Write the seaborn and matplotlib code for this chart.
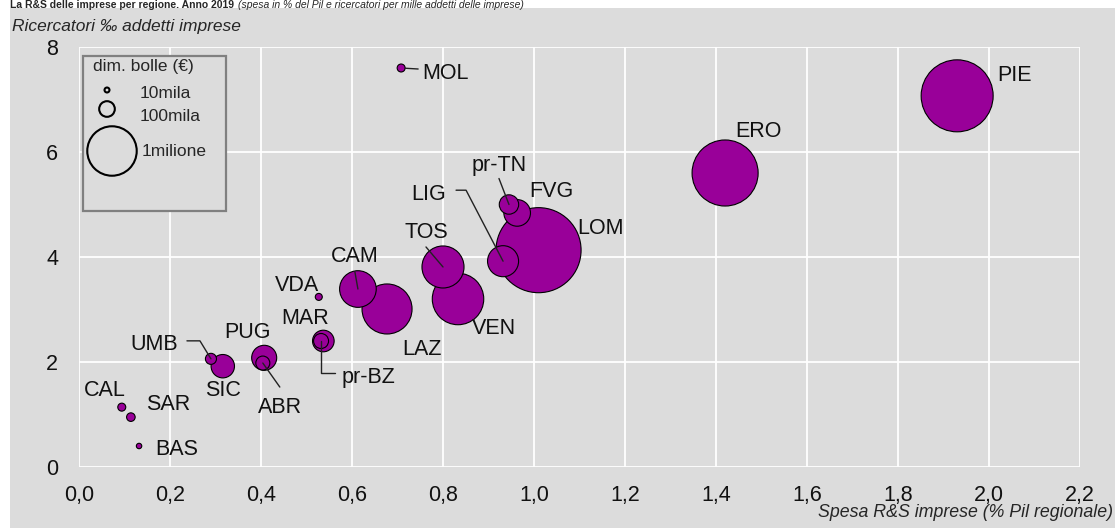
import numpy as np
import pandas as pd
import matplotlib.pyplot as plt
import seaborn as sns
from matplotlib.patches import Rectangle

# data
regioni = ["PIE", "ERO", "LOM", "FVG", "pr-TN", "LIG", "TOS", "VEN", "LAZ", "CAM", "VDA",
           "MAR", "pr-BZ", "UMB", "SIC", "PUG", "ABR", "CAL", "SAR", "BAS", "MOL"]
spesa_pil = [1.93, 1.42, 1.01, 0.963, 0.945, 0.932, 0.80, 0.833, 0.677, 0.613, 0.527,
             0.537, 0.532, 0.29, 0.316, 0.407, 0.404, 0.094, 0.114, 0.132, 0.708]
ricercatori = [7.07, 5.60, 4.13, 4.84, 5.00, 3.92, 3.81, 3.20, 3.01, 3.39, 3.24,
               2.40, 2.40, 2.06, 1.92, 2.08, 1.98, 1.14, 0.95, 0.40, 7.60]
spesa_mila = [2120000, 1785000, 2960000, 290000, 154000, 394000, 723000, 1083000, 1024000, 549000, 20000,
              191000, 92000, 50000, 224000, 256000, 80000, 26000, 30000, 12000, 26000]

legend_values = [10000, 100000, 1000000]
legend_labels = ["10mila", "100mila", "1milione"]
x_ticks = np.arange(0, 2.21, 0.2)
y_ticks = [0, 2, 4, 6, 8]

# label placement (pixels from bubble centre, y up) and leader lines
label_pos = {
    "PIE": (40, 23, "left"), "ERO": (10, 44, "left"), "LOM": (39, 24, "left"),
    "FVG": (12, 24, "left"), "pr-TN": (-10, 41, "center"), "LIG": (-57, 69, "right"),
    "TOS": (-17, 37, "center"), "VEN": (14, -27, "left"), "LAZ": (35, -38, "center"),
    "CAM": (-3, 35, "center"), "VDA": (-22, 14, "center"), "MAR": (-18, 25, "center"),
    "pr-BZ": (21, -34, "left"), "UMB": (-33, 17, "right"), "SIC": (0, -22, "center"),
    "PUG": (-17, 28, "center"), "ABR": (17, -42, "center"), "CAL": (-17, 19, "center"),
    "SAR": (37, 15, "center"), "BAS": (16, -1, "left"), "MOL": (21, -3, "left"),
}
leaders = {
    "MOL": (17, -1, "arc3", 3), "pr-TN": (-10, 26, "arc3", 0),
    "LIG": (-47, 71, "arc,angleA=0,armA=10,angleB=0,armB=0,rad=0", 0),
    "TOS": (-17, 20, "arc3", 0), "CAM": (-3, 17, "arc3", 0),
    "pr-BZ": (14, -32, "angle,angleA=0,angleB=90,rad=0", 0),
    "UMB": (-24, 18, "arc,angleA=0,armA=13,angleB=0,armB=0,rad=0", 0),
    "ABR": (17, -24, "arc3", 0),
}

df = pd.DataFrame({"regione": regioni, "spesa_pil": spesa_pil,
                   "ricercatori": ricercatori, "spesa": spesa_mila})
df = df.sort_values("spesa", ascending=False)

sns.set_theme(style="white")
plt.rcParams["font.family"] = ["Liberation Sans", "DejaVu Sans"]

W, H = 1115, 528
bg = "#dcdcdc"
purple = "#990099"

fig = plt.figure(figsize=(W / 100, H / 100), dpi=100, facecolor="white")
fig.patches.append(Rectangle((10 / W, 0), 1 - 10 / W, 1 - 8 / H, transform=fig.transFigure,
                             facecolor=bg, edgecolor="none", zorder=-10))
ax = fig.add_axes([79 / W, 61 / H, 1001 / W, 420 / H])
ax.set_facecolor(bg)

# area proportional to value: 1 milione -> radius ~17.8 pt
s_unit = (2 * 17.8) ** 2 / 1e6
vmax = df["spesa"].max()
sns.scatterplot(data=df, x="spesa_pil", y="ricercatori", size="spesa",
                sizes=(0, s_unit * vmax), size_norm=(0, vmax), color=purple,
                edgecolor="black", linewidth=0.8, alpha=1, legend=False, ax=ax, zorder=3)

ax.set_xlim(0, 2.2)
ax.set_ylim(0, 8)
ax.set_xticks(x_ticks)
ax.set_xticklabels([f"{t:.1f}".replace(".", ",") for t in x_ticks])
ax.set_yticks(y_ticks)
ax.set_xlabel("")
ax.set_ylabel("")
ax.grid(True, color="white", lw=1.3)
ax.set_axisbelow(True)
for sp in ax.spines.values():
    sp.set_visible(False)
ax.tick_params(axis="x", length=0, pad=13, labelsize=15.5, colors="#111111")
ax.tick_params(axis="y", length=0, pad=15, labelsize=15.5, colors="#111111")

fs = 15.5
cap = fs * 100 / 72 * 0.72
for _, r in df.iterrows():
    name = r["regione"]
    dx, dy, ha = label_pos[name]
    ax.annotate(name, xy=(r["spesa_pil"], r["ricercatori"]), xytext=(dx, dy - cap / 2),
                textcoords="offset pixels", ha=ha, va="baseline", fontsize=fs,
                color="#111111", zorder=5)
    if name in leaders:
        sx, sy, cs, sb = leaders[name]
        ax.annotate("", xy=(r["spesa_pil"], r["ricercatori"]), xytext=(sx, sy),
                    textcoords="offset pixels",
                    arrowprops=dict(arrowstyle="-", color="#222222", lw=1.0,
                                    shrinkA=0, shrinkB=sb, connectionstyle=cs),
                    zorder=5)

# bubble size legend
def ax_px(px, py):
    return (px - 79) / 1001, (467 - py) / 420

x0, y0 = ax_px(83, 211)
x1, y1 = ax_px(226, 56)
ax.add_patch(Rectangle((x0, y0), x1 - x0, y1 - y0, transform=ax.transAxes,
                       facecolor=bg, edgecolor="#808080", lw=1.6, zorder=4))
ax.text(*ax_px(93, 66), "dim. bolle (€)", transform=ax.transAxes, fontsize=12.5,
        va="center", ha="left", zorder=5)
leg_px = [(107, 90, 140, 93), (107, 109, 140, 116), (112, 151, 142, 151)]
for v, lab, (cx, cy, tx, ty) in zip(legend_values, legend_labels, leg_px):
    ax.scatter(*ax_px(cx, cy), s=s_unit * v, transform=ax.transAxes, facecolor="none",
               edgecolor="black", lw=1.5, zorder=5)
    ax.text(*ax_px(tx, ty), lab, transform=ax.transAxes, fontsize=12.5,
            va="center", ha="left", zorder=5)

# titles
t1 = fig.text(10 / W, 1 - 8 / H, "La R&S delle imprese per regione. Anno 2019",
              fontsize=7.5, weight="bold", va="baseline", ha="left")
fig.canvas.draw()
x_end = t1.get_window_extent().x1
fig.text((x_end + 4) / W, 1 - 8 / H,
         "(spesa in % del Pil e ricercatori per mille addetti delle imprese)",
         fontsize=7.5, style="italic", va="baseline", ha="left")
fig.text(12 / W, 1 - 31 / H, "Ricercatori ‰ addetti imprese", fontsize=12.5,
         style="italic", va="baseline", ha="left")
fig.text(1113 / W, 1 - 517 / H, "Spesa R&S imprese (% Pil regionale)", fontsize=12.8,
         style="italic", va="baseline", ha="right")

fig.savefig("out.png", dpi=100, facecolor="white")
